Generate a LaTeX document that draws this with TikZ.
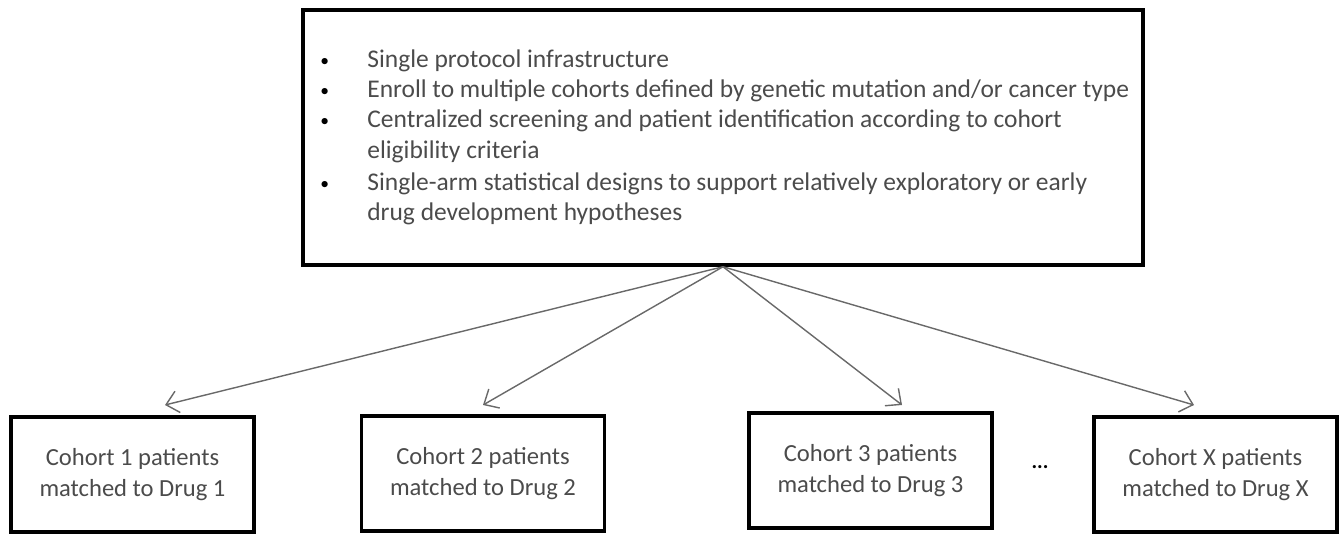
\documentclass[tikz,border=0pt]{standalone}
\usepackage{fontspec}
\setmainfont{Carlito}
\usetikzlibrary{arrows.meta}
\definecolor{txtgray}{RGB}{75,75,75}
\definecolor{arrgray}{RGB}{105,105,105}
\tikzset{
    bigbox/.style={draw,line width=2pt,minimum width=16.8cm,minimum height=5.1cm},
    cohortbox/.style={draw,line width=2pt,minimum width=4.86cm,minimum height=2.3cm,
        align=center,text=txtgray,font=\fontsize{14}{18}\selectfont},
    item/.style={anchor=base west,text=txtgray,font=\fontsize{14.5}{18}\selectfont,inner sep=0pt},
    dot/.style={anchor=base west,font=\fontsize{10}{12}\selectfont,inner sep=0pt},
    fan/.style={->,draw=arrgray,line width=0.8pt}
}
\begin{document}
\begin{tikzpicture}[x=0.02cm,y=-0.02cm,>={Straight Barb[length=2.4mm,width=4.4mm]}]
\useasboundingbox(0,0)rectangle(1344,534);
\node[bigbox](top) at (723,137.5){};
\node[dot](b1) at (320,66){\textbullet};
\node[item](l1) at (367,67){Single protocol infrastructure};
\node[dot](b2) at (320,96){\textbullet};
\node[item](l2) at (367,97){Enroll to multiple cohorts defined by genetic mutation and/or cancer type};
\node[dot](b3) at (320,126){\textbullet};
\node[item](l3) at (367,127){Centralized screening and patient identification according to cohort};
\node[item](l4) at (367,158){eligibility criteria};
\node[dot](b4) at (320,189){\textbullet};
\node[item](l5) at (367,190){Single-arm statistical designs to support relatively exploratory or early};
\node[item](l6) at (367,220){drug development hypotheses};

\node[cohortbox](c1) at (132.5,474.5){Cohort 1 patients\\matched to Drug 1};
\node[cohortbox](c2) at (483,473.5){Cohort 2 patients\\matched to Drug 2};
\node[cohortbox](c3) at (870.5,470.5){Cohort 3 patients\\matched to Drug 3};
\node[cohortbox](cx) at (1215.5,474.5){Cohort X patients\\matched to Drug X};
\node[font=\bfseries\large](dots) at (1040,467){...};

\coordinate(t1) at (165,405);
\coordinate(t2) at (483,405);
\coordinate(t3) at (902,405);
\coordinate(tx) at (1194,405);
\foreach \t in{t1,t2,t3,tx}
{
    \draw[fan](top.south)--(\t);
}
\end{tikzpicture}
\end{document}
